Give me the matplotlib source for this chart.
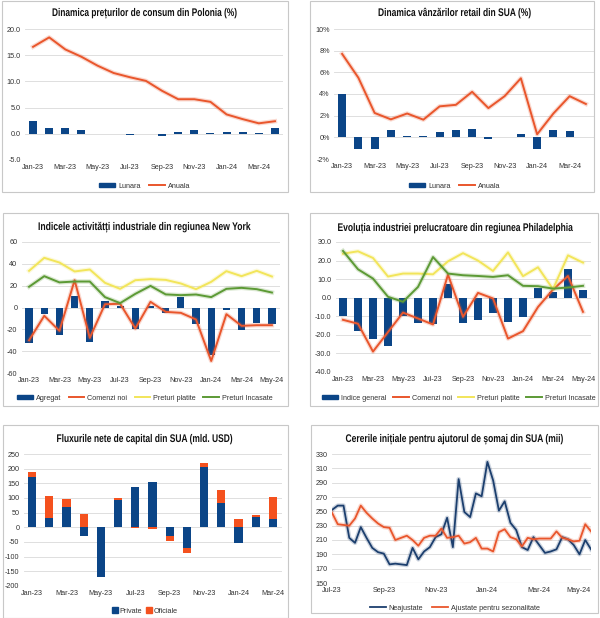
import matplotlib
matplotlib.use("Agg")
import matplotlib.pyplot as plt
import matplotlib.patheffects as pe
from matplotlib.patches import Rectangle, Patch
from matplotlib.lines import Line2D
from matplotlib.transforms import Affine2D
import numpy as np

plt.rcParams['font.family'] = ['Liberation Sans', 'DejaVu Sans']
plt.rcParams['axes.unicode_minus'] = False

# ---------------- data ----------------
months_a = ["Jan-23", "Feb-23", "Mar-23", "Apr-23", "May-23", "Jun-23", "Jul-23", "Aug-23",
            "Sep-23", "Oct-23", "Nov-23", "Dec-23", "Jan-24", "Feb-24", "Mar-24", "Apr-24", "May-24"]

# Panel 1: Poland CPI
pl_lunara = [2.5, 1.2, 1.1, 0.7, 0.0, 0.0, -0.2, 0.0, -0.4, 0.3, 0.7, 0.1, 0.3, 0.3, 0.2, 1.1]
pl_anuala = [16.6, 18.4, 16.1, 14.7, 13.0, 11.6, 10.8, 10.1, 8.2, 6.6, 6.6, 6.1, 3.7, 2.8, 2.0, 2.4]

# Panel 2: US retail sales
us_lunara = [4.0, -1.1, -1.1, 0.7, 0.15, 0.12, 0.5, 0.7, 0.8, -0.15, 0.06, 0.35, -1.1, 0.7, 0.6]
us_anuala = [7.7, 5.5, 2.25, 1.66, 2.2, 1.63, 2.86, 3.0, 4.2, 2.7, 3.8, 5.45, 0.28, 2.2, 3.8, 3.08]

# Panel 3: New York
ny_agregat = [-32.7, -5.8, -25.0, 10.7, -31.8, 6.4, 1.0, -19.5, 1.8, -4.6, 9.2, -14.7, -43.7, -2.4, -21.0, -14.4, -15.3]
ny_comenzi = [-30.0, -7.6, -21.4, 25.0, -27.8, 3.0, 3.4, -19.2, 5.2, -4.0, -4.9, -11.0, -49.0, -6.1, -16.8, -16.2, -16.2]
ny_platite = [33.6, 45.5, 41.2, 33.0, 34.8, 22.6, 17.1, 25.0, 26.0, 25.3, 22.0, 16.8, 23.5, 33.3, 28.7, 33.6, 28.4]
ny_incasate = [19.0, 28.7, 23.0, 23.8, 23.8, 9.5, 4.0, 12.5, 19.8, 12.0, 11.3, 11.9, 9.5, 17.1, 18.0, 16.8, 13.7]

# Panel 4: Philadelphia
ph_general = [-9.9, -17.8, -22.3, -26.0, -10.0, -13.7, -14.2, 7.6, -13.5, -12.2, -8.0, -13.0, -10.4, 5.1, 3.2, 15.5, 4.4]
ph_comenzi = [-11.9, -14.0, -29.0, -18.5, -8.0, -11.2, -14.4, 12.4, -10.3, 2.6, -0.4, -22.0, -18.0, -5.0, 4.4, 11.7, -7.6]
ph_platite = [23.7, 25.0, 21.4, 11.4, 13.0, 13.0, 12.6, 19.6, 24.0, 20.0, 14.4, 24.4, 11.6, 16.4, 4.6, 22.8, 18.9]
ph_incasate = [25.2, 15.3, 10.3, 0.5, -2.2, 5.8, 21.9, 13.0, 12.1, 11.7, 11.2, 12.1, 6.4, 6.2, 4.9, 5.5, 6.4]

# Panel 5: US net capital flows
cf_private = [170, 33, 71, -28, -169, 92, 138, 156, -30, -70, 204, 83, -55, 35, 30]
cf_oficiale = [17, 73, 27, 45, 0, 8, -3, -5, -16, -17, 17, 45, 28, 8, 72]

# Panel 6: initial jobless claims (weekly)
week_labels = {0: "Jul-23", 9: "Sep-23", 18: "Nov-23", 27: "Jan-24", 36: "Mar-24", 45: "May-24"}
jc_neajustate = [252, 258, 258, 213, 206, 228, 213, 199, 193, 191, 176, 177, 176, 175, 199, 183,
                 194, 200, 214, 218, 241, 200, 295, 249, 242, 275, 271, 319, 293, 251, 264, 234,
                 224, 200, 196, 214, 203, 192, 194, 197, 214, 211, 203, 190, 210, 197]
jc_ajustate = [248, 232, 231, 230, 240, 258, 248, 240, 233, 228, 227, 210, 213, 216, 210, 202,
               213, 216, 216, 226, 213, 214, 216, 205, 207, 213, 198, 198, 194, 221, 225, 214,
               211, 201, 213, 211, 212, 212, 212, 222, 213, 211, 208, 209, 232, 222]

# ---------------- style ----------------
NAVY = '#0B4587'
RED = '#E9562C'
YELLOW = '#F2E55A'
GREEN = '#5C9A35'
ORANGE = '#F4511E'
DARKBLUE = '#1C3F6E'
GRID = '#D9D9D9'
TXT = '#333333'
TICKFS = 5.2

W, H = 600, 618
fig = plt.figure(figsize=(W / 100, H / 100), dpi=100)
fig.patch.set_facecolor('white')


def fx(x):
    return x / W


def fy(y):
    return 1 - y / H


class HSquash(pe.AbstractPathEffect):
    """Horizontally condense a text around display x = cx."""

    def __init__(self, cx, sx):
        super().__init__()
        self.cx = cx
        self.sx = sx

    def draw_path(self, renderer, gc, tpath, affine, rgbFace=None):
        aff = affine + Affine2D().translate(-self.cx, 0).scale(self.sx, 1).translate(self.cx, 0)
        renderer.draw_path(gc, tpath, aff, rgbFace)


def box(x0, y0, x1, y1):
    fig.patches.append(Rectangle((fx(x0), fy(y1)), fx(x1) - fx(x0), fy(y0) - fy(y1),
                                 transform=fig.transFigure, fill=False,
                                 edgecolor='#C8C8C8', linewidth=0.8))


def make_ax(x0, y0, x1, y1):
    ax = fig.add_axes([fx(x0), fy(y1), fx(x1) - fx(x0), fy(y0) - fy(y1)])
    for s in ax.spines.values():
        s.set_visible(False)
    ax.tick_params(length=0, labelsize=TICKFS, labelcolor=TXT, pad=3)
    ax.yaxis.grid(True, color=GRID, linewidth=0.6)
    ax.set_axisbelow(True)
    return ax


renderer = fig.canvas.get_renderer()


def title(text, xc, yc, target_w):
    t = fig.text(fx(xc), fy(yc), text, ha='center', va='center', fontsize=8.0,
                 fontweight='bold', color='#111111')
    w = t.get_window_extent(renderer).width
    t.set_path_effects([HSquash(xc, target_w / w)])


def legend(ax, handles, labels, xc, yc, **kw):
    opts = dict(handletextpad=0.4, columnspacing=1.2)
    opts.update(kw)
    ax.legend(handles, labels, loc='center', bbox_to_anchor=(fx(xc), fy(yc)),
              bbox_transform=fig.transFigure, ncol=len(labels), frameon=False,
              fontsize=TICKFS, labelcolor=TXT, **opts)


def glow(c):
    return [pe.Stroke(linewidth=3.2, foreground=c, alpha=0.22), pe.Normal()]


# boxes
box(2, 0.5, 288, 192)
box(310, 0.5, 594, 192)
box(3, 213, 288, 406)
box(310, 213, 598, 406)
box(3, 425, 288, 617.5)
box(311, 425, 598, 613)

BARH = dict(handlelength=2.2, handleheight=0.55)

# ---------------- Panel 1 ----------------
ax = make_ax(25, 29, 283, 160)
n = len(pl_anuala)
x = np.arange(n)
ax.bar(x, pl_lunara, width=0.5, color=NAVY, zorder=2)
ax.plot(x, pl_anuala, color=RED, lw=1.4, zorder=3, path_effects=glow(RED))
ax.set_ylim(-5, 20)
ax.set_yticks([-5, 0, 5, 10, 15, 20])
ax.set_yticklabels([f"{v:.1f}" for v in [-5, 0, 5, 10, 15, 20]])
ax.set_xlim(-0.5, n - 0.5)
ax.set_xticks(range(0, n, 2))
ax.set_xticklabels([months_a[i] for i in range(0, n, 2)])
title("Dinamica prețurilor de consum din Polonia (%)", 145, 13, 186)
legend(ax, [Patch(color=NAVY), Line2D([], [], color=RED, lw=1.4)], ["Lunara", "Anuala"],
       145, 186, **BARH)

# ---------------- Panel 2 ----------------
ax = make_ax(334, 29, 594, 159)
n = len(us_anuala)
x = np.arange(n)
ax.bar(np.arange(len(us_lunara)), us_lunara, width=0.5, color=NAVY, zorder=2)
ax.plot(x, us_anuala, color=RED, lw=1.4, zorder=3, path_effects=glow(RED))
ax.set_ylim(-2, 10)
ax.set_yticks(range(-2, 11, 2))
ax.set_yticklabels([f"{v}%" for v in range(-2, 11, 2)])
ax.set_xlim(-0.5, n - 0.5)
ax.set_xticks(range(0, n, 2))
ax.set_xticklabels([months_a[i] for i in range(0, n, 2)])
title("Dinamica vânzărilor retail din SUA (%)", 455, 13, 154)
legend(ax, [Patch(color=NAVY), Line2D([], [], color=RED, lw=1.4)], ["Lunara", "Anuala"],
       455, 186, **BARH)

# ---------------- Panel 3 ----------------
ax = make_ax(21.5, 242, 279.5, 373)
n = len(ny_agregat)
x = np.arange(n)
ax.bar(x, ny_agregat, width=0.48, color=NAVY, zorder=2)
ax.plot(x, ny_comenzi, color=RED, lw=1.4, zorder=3, path_effects=glow(RED))
ax.plot(x, ny_platite, color=YELLOW, lw=1.4, zorder=3, path_effects=glow(YELLOW))
ax.plot(x, ny_incasate, color=GREEN, lw=1.4, zorder=3, path_effects=glow(GREEN))
ax.set_ylim(-60, 60)
ax.set_yticks(range(-60, 61, 20))
ax.set_xlim(-0.5, n - 0.5)
ax.set_xticks(range(0, n, 2))
ax.set_xticklabels([months_a[i] for i in range(0, n, 2)])
title("Indicele activitătți industriale din regiunea New York", 145, 227, 214)
legend(ax, [Patch(color=NAVY), Line2D([], [], color=RED, lw=1.4),
            Line2D([], [], color=YELLOW, lw=1.4), Line2D([], [], color=GREEN, lw=1.4)],
       ["Agregat", "Comenzi noi", "Preturi platite", "Preturi Incasate"],
       145, 398, columnspacing=1.0, **BARH)

# ---------------- Panel 4 ----------------
ax = make_ax(335.5, 242, 590.5, 372)
n = len(ph_general)
x = np.arange(n)
ax.bar(x, ph_general, width=0.55, color=NAVY, zorder=2)
ax.plot(x, ph_comenzi, color=RED, lw=1.4, zorder=3, path_effects=glow(RED))
ax.plot(x, ph_platite, color=YELLOW, lw=1.4, zorder=3, path_effects=glow(YELLOW))
ax.plot(x, ph_incasate, color=GREEN, lw=1.4, zorder=3, path_effects=glow(GREEN))
ax.set_ylim(-40, 30)
ax.set_yticks(range(-40, 31, 10))
ax.set_yticklabels([f"{v:.1f}" for v in range(-40, 31, 10)])
ax.set_xlim(-0.5, n - 0.5)
ax.set_xticks(range(0, n, 2))
ax.set_xticklabels([months_a[i] for i in range(0, n, 2)])
title("Evoluția industriei prelucratoare din regiunea Philadelphia", 456, 228, 237)
legend(ax, [Patch(color=NAVY), Line2D([], [], color=RED, lw=1.4),
            Line2D([], [], color=YELLOW, lw=1.4), Line2D([], [], color=GREEN, lw=1.4)],
       ["Indice general", "Comenzi noi", "Preturi platite", "Preturi Incasate"],
       459, 398, columnspacing=0.9, **BARH)

# ---------------- Panel 5 ----------------
ax = make_ax(23.5, 454, 281.5, 586)
n = len(cf_private)
x = np.arange(n)
priv = np.array(cf_private, dtype=float)
off = np.array(cf_oficiale, dtype=float)
bottom_off = np.where(np.sign(priv) == np.sign(off), priv, 0.0)
ax.bar(x, priv, width=0.48, color=NAVY, zorder=2)
ax.bar(x, off, bottom=bottom_off, width=0.48, color=ORANGE, zorder=2)
ax.set_ylim(-200, 250)
ax.set_yticks(range(-200, 251, 50))
ax.set_xlim(-0.5, n - 0.5)
ax.set_xticks(range(0, n, 2))
ax.set_xticklabels([months_a[i] for i in range(0, n, 2)])
title("Fluxurile nete de capital din SUA (mld. USD)", 145, 439, 177)
legend(ax, [Patch(color=NAVY), Patch(color=ORANGE)], ["Private", "Oficiale"],
       145, 611, handlelength=0.8, handleheight=0.8, handletextpad=0.2, columnspacing=0.6)

# ---------------- Panel 6 ----------------
ax = make_ax(332, 454, 591, 583)
n = len(jc_neajustate)
x = np.arange(n)
ax.plot(x, jc_neajustate, color=DARKBLUE, lw=1.3, zorder=3, path_effects=glow(DARKBLUE))
ax.plot(x, jc_ajustate, color=RED, lw=1.3, zorder=3, path_effects=glow(RED))
ax.set_ylim(150, 330)
ax.set_yticks(range(150, 331, 20))
ax.set_xlim(0, n - 1)
ax.set_xticks(list(week_labels.keys()))
ax.set_xticklabels(list(week_labels.values()))
ax.axhline(150, color='#BFBFBF', lw=0.8)
lbls = ax.get_xticklabels()
lbls[-1].set_ha('right')
title("Cererile inițiale pentru ajutorul de șomaj din SUA (mii)", 455, 439, 219)
legend(ax, [Line2D([], [], color=DARKBLUE, lw=1.3), Line2D([], [], color=RED, lw=1.3)],
       ["Neajustate", "Ajustate pentru sezonalitate"], 455, 608, handlelength=2.2)

fig.savefig("out.png", dpi=100, facecolor='white')
